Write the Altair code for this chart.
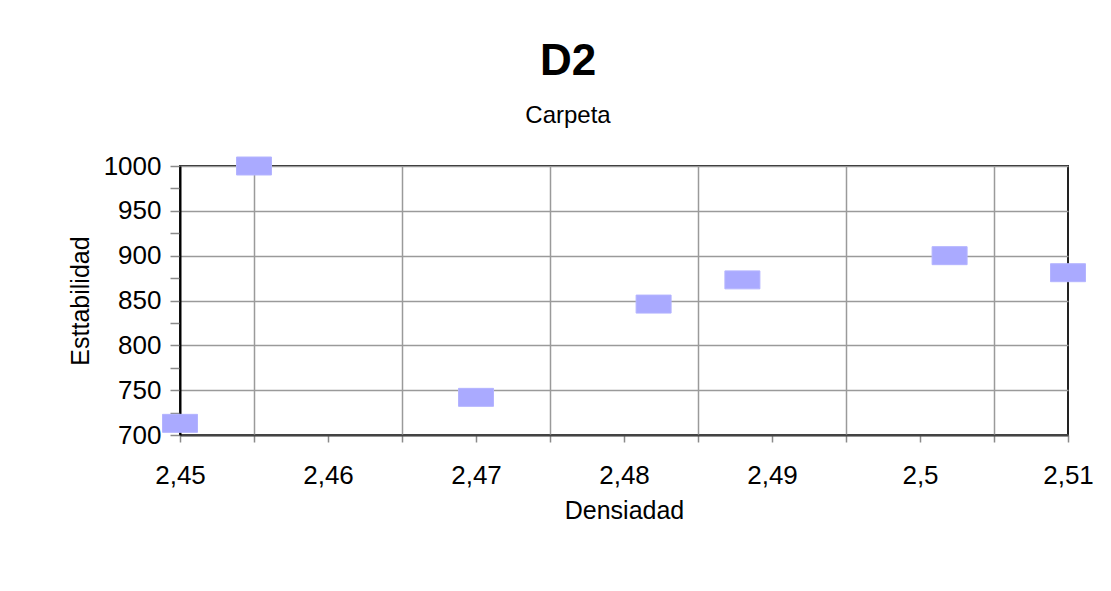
import altair as alt
import pandas as pd

# ---- data ----
densidad = [2.45, 2.455, 2.47, 2.482, 2.488, 2.502, 2.51]
estabilidad = [713, 1000, 742, 846, 873, 900, 881]

x_ticks = [2.45, 2.455, 2.46, 2.465, 2.47, 2.475, 2.48, 2.485, 2.49, 2.495, 2.5, 2.505, 2.51]
y_ticks = [700, 725, 750, 775, 800, 825, 850, 875, 900, 925, 950, 975, 1000]

df = pd.DataFrame({"Densiadad": densidad, "Estabilidad": estabilidad})

FONT = "Liberation Sans"
rect_shape = "M-1,-0.514L1,-0.514L1,0.514L-1,0.514Z"

x_half = "round(datum.value*1000) % 10 == 5"
y_minor = "round(datum.value) % 50 == 25"

x_axis = alt.Axis(
    values=x_ticks,
    title="Densiadad",
    labelExpr=f"{x_half} ? '' : replace(format(datum.value, '.2~f'), '.', ',')",
    grid=True,
    gridOpacity={"condition": {"test": x_half, "value": 1}, "value": 0},
    gridColor="#9a9a9a",
    gridWidth=1.5,
    domainColor="#444444",
    domainWidth=2,
    tickColor="#8a8a8a",
    tickWidth=1.5,
    tickSize=7,
    labelPadding=20,
    labelFont=FONT,
    labelFontSize=26,
    labelColor="black",
    titleFont=FONT,
    titleFontSize=25,
    titleFontWeight="normal",
    titleColor="black",
    titlePadding=10,
    labelFlush=False,
    labelOverlap=False,
)

y_axis = alt.Axis(
    values=y_ticks,
    title="Esttabilidad",
    labelExpr=f"{y_minor} ? '' : format(datum.value, 'd')",
    grid=True,
    gridOpacity={"condition": {"test": y_minor, "value": 0}, "value": 1},
    gridColor="#9a9a9a",
    gridWidth=1.5,
    domainColor="black",
    domainWidth=2,
    tickColor="#8a8a8a",
    tickWidth=1.5,
    tickSize=10,
    labelPadding=9,
    labelFont=FONT,
    labelFontSize=26,
    labelColor="black",
    titleFont=FONT,
    titleFontSize=25,
    titleFontWeight="normal",
    titleColor="black",
    titlePadding=10,
    labelFlush=False,
    labelOverlap=False,
)

chart = (
    alt.Chart(df)
    .mark_point(shape=rect_shape, size=1225, filled=True, opacity=1,
                fill="#AAAAFF", stroke="#B4B4FF", strokeWidth=1, clip=False)
    .encode(
        x=alt.X("Densiadad:Q", scale=alt.Scale(domain=[2.45, 2.51], nice=False, zero=False), axis=x_axis),
        y=alt.Y("Estabilidad:Q", scale=alt.Scale(domain=[700, 1000], nice=False, zero=False), axis=y_axis),
    )
    .properties(
        width=888,
        height=269,
        title=alt.TitleParams(
            text="D2",
            subtitle="Carpeta",
            font=FONT,
            fontSize=44,
            fontWeight="bold",
            color="black",
            subtitleFont=FONT,
            subtitleFontSize=24,
            subtitleColor="black",
            subtitlePadding=20,
            anchor="middle",
            frame="group",
            dx=-56,
            offset=25,
        ),
        autosize=alt.AutoSizeParams(type="none"),
        padding={"left": 172, "top": 158, "right": 35, "bottom": 148},
        background="white",
    )
    .configure_view(stroke="#222222", strokeWidth=2)
)

chart.save("out.html", embed_options={"renderer": "svg", "actions": False})
